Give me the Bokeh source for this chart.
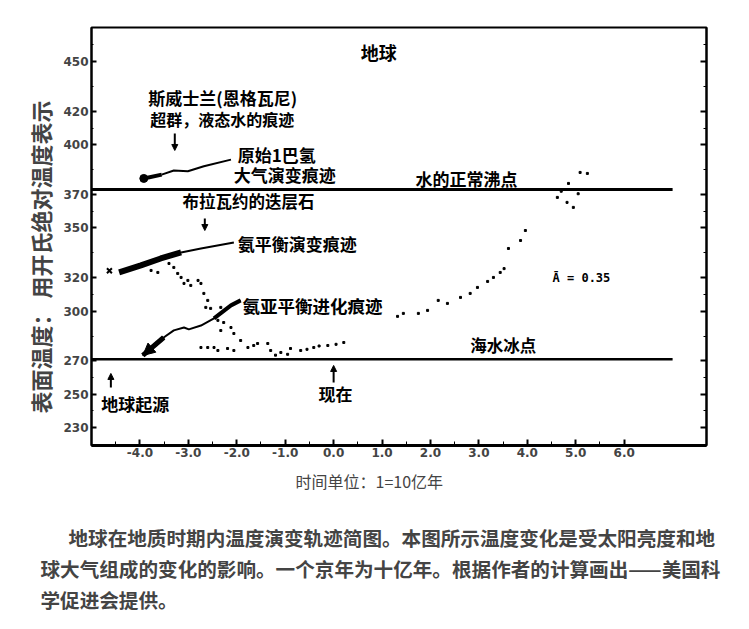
from bokeh.plotting import figure
from bokeh.models import (Range1d, LinearAxis, FixedTicker, Label, Arrow, NormalHead,
                          Title, CustomJSTickFormatter)
from bokeh.embed import file_html
from bokeh.resources import INLINE

# ---------------- data ----------------
x_ticks = [-4, -3, -2, -1, 0, 1, 2, 3, 4, 5, 6]
x_tick_labels = ["-4.0", "-3.0", "-2.0", "-1.0", "0.0", "1.0", "2.0", "3.0", "4.0", "5.0", "6.0"]
x_minor = [-4.5, -3.5, -2.5, -1.5, -0.5, 0.5, 1.5, 2.5, 3.5, 4.5, 5.5]
y_ticks = [230, 250, 270, 300, 320, 350, 370, 400, 420, 450]
y_minor = [240, 260, 285, 310, 335, 360, 385, 410, 435, 460]

boiling_point = 373
freezing_point = 271
ref_line_start = -5.0
ref_line_end = 7.0

# 原始1巴氢大气演变痕迹
h2_x = [-3.92, -3.55, -3.30, -3.01, -2.68, -2.12]
h2_y = [379.7, 382.0, 384.5, 384.0, 387.0, 391.0]
# 氨平衡演变痕迹
nh3_eq_x = [-4.43, -3.98, -3.57, -3.15, -2.74, -2.06]
nh3_eq_y = [323.2, 327.4, 331.6, 335.2, 337.6, 341.2]
# 氨亚平衡进化痕迹
nh3_sub_x = [-3.94, -3.51, -3.30, -3.09, -2.99, -2.74, -2.47, -2.12, -1.92]
nh3_sub_y = [273.3, 284.1, 288.4, 290.1, 289.0, 291.3, 295.6, 303.4, 306.4]

# scattered model points
dots_x = [-3.40, -3.30, -3.22, -3.15, -3.09, -3.01, -2.95, -2.80, -2.74, -2.68, -2.60, -2.64,
          -2.54, -2.33, -2.39, -2.27, -2.12, -2.33, -2.06, -1.92, -1.77, -2.60, -2.39, -2.19,
          -1.57, -1.30, -3.77, -3.63, -3.57,
          -2.74, -2.47, -2.06, -1.65, -1.36, -1.09, -0.89, -0.68, -0.41, -0.12, 0.21,
          -1.20, -0.95, -0.55, -0.30, 0.05,
          1.32, 1.44, 1.75, 1.94, 2.16, 2.35, 2.62, 2.82, 2.97, 3.18, 3.30, 3.44, 3.52,
          3.61, 3.86, 3.96,
          4.62, 4.82, 4.95, 4.85, 5.09, 5.24, 4.70, 5.05]
dots_y = [328.6, 326.2, 322.6, 320.2, 316.6, 318.4, 315.4, 318.4, 316.6, 310.6, 306.4, 302.2,
          301.6, 302.2, 294.4, 293.1, 290.1, 288.3, 286.5, 282.3, 278.1, 278.1, 276.3, 277.5,
          280.5, 276.3, 324.4, 323.2, 332.2,
          278.1, 278.1, 276.3, 279.3, 280.5, 275.1, 277.5, 276.3, 278.1, 279.3, 281.1,
          273.5, 274.0, 277.0, 279.0, 280.0,
          296.8, 298.6, 298.6, 300.4, 306.4, 304.6, 308.2, 310.6, 314.2, 317.8, 320.2, 323.2,
          325.5, 337.6, 342.4, 348.4,
          368.3, 365.3, 362.3, 376.7, 383.3, 382.7, 372.0, 370.5]

y_title = "表面温度： 用开氏绝对温度表示"
x_title = "时间单位：1=10亿年"
caption = ["地球在地质时期内温度演变轨迹简图。本图所示温度变化是受太阳亮度和地",
           "球大气组成的变化的影响。一个京年为十亿年。根据作者的计算画出——美国科",
           "学促进会提供。"]

FONT = "Noto Sans CJK SC"

# ---------------- figure ----------------
p = figure(width=733, height=625, x_range=Range1d(-5.0, 7.7), y_range=Range1d(219.2, 470.4),
           output_backend="svg", toolbar_location=None,
           min_border_left=91, min_border_right=27, min_border_top=27, min_border_bottom=180,
           background_fill_color="white", border_fill_color="white")
p.grid.visible = False
p.outline_line_color = "black"
p.outline_line_width = 2

xa = p.xaxis[0]
xa.ticker = FixedTicker(ticks=x_ticks, minor_ticks=x_minor)
xa.major_label_overrides = {t: l for t, l in zip(x_ticks, x_tick_labels)}
xa.axis_line_width = 3
xa.major_tick_in = 6
xa.major_tick_out = 0
xa.minor_tick_in = 4
xa.minor_tick_out = 0
xa.major_tick_line_width = 2
xa.major_label_standoff = 2
xa.major_label_text_font = "DejaVu Sans"
xa.major_label_text_font_style = "bold"
xa.major_label_text_font_size = "12px"

ya = p.yaxis[0]
ya.ticker = FixedTicker(ticks=y_ticks, minor_ticks=y_minor)
ya.axis_line_width = 2
ya.major_tick_in = 5
ya.major_tick_out = 0
ya.minor_tick_in = 2
ya.minor_tick_out = 0
ya.major_tick_line_width = 2
ya.major_label_standoff = 3
ya.major_label_text_font = "DejaVu Sans"
ya.major_label_text_font_style = "bold"
ya.major_label_text_font_size = "12px"

ra = LinearAxis(ticker=FixedTicker(ticks=y_ticks, minor_ticks=y_minor),
                formatter=CustomJSTickFormatter(code="return ''"),
                axis_line_width=2, major_tick_in=6, major_tick_out=0,
                minor_tick_in=3, minor_tick_out=0, major_tick_line_width=2)
p.add_layout(ra, "right")

# axis titles and caption as stacked titles
p.add_layout(Title(text=y_title, align="left", offset=32, text_font=FONT,
                   text_font_size="22px", text_font_style="bold", standoff=10), "left")
p.add_layout(Title(text=x_title, align="left", offset=204, text_font=FONT,
                   text_font_size="16px", text_font_style="normal", standoff=14.8), "below")
p.add_layout(Title(text=" ", align="left", text_font=FONT, text_font_size="2px",
                   standoff=16.2), "below")
cap_offsets = [-23, -51, -51]
for txt, off in zip(caption, cap_offsets):
    p.add_layout(Title(text=txt, align="left", offset=off, text_font=FONT,
                       text_font_size="19.6px", text_font_style="bold", standoff=0.3), "below")

# reference lines
p.segment(x0=[ref_line_start], y0=[boiling_point], x1=[ref_line_end], y1=[boiling_point],
          line_color="black", line_width=3)
p.segment(x0=[ref_line_start], y0=[freezing_point], x1=[ref_line_end], y1=[freezing_point],
          line_color="black", line_width=2.5)

# traces
p.line(h2_x[1:], h2_y[1:], line_color="black", line_width=2)
p.line(h2_x[:2], h2_y[:2], line_color="black", line_width=4)
p.scatter(h2_x[:1], h2_y[:1], size=8, color="black")

p.line(nh3_eq_x[3:], nh3_eq_y[3:], line_color="black", line_width=2)
p.line(nh3_eq_x[:4], nh3_eq_y[:4], line_color="black", line_width=6)
p.scatter([nh3_eq_x[0] - 0.2], [nh3_eq_y[0] + 1.0], marker="x", size=7, line_color="black",
          line_width=2)

p.line(nh3_sub_x, nh3_sub_y, line_color="black", line_width=2)
p.line(nh3_sub_x[:2], nh3_sub_y[:2], line_color="black", line_width=5)
p.line(nh3_sub_x[6:], nh3_sub_y[6:], line_color="black", line_width=4)
p.add_layout(Arrow(end=NormalHead(size=12, fill_color="black", line_color="black"),
                   x_start=nh3_sub_x[1], y_start=nh3_sub_y[1],
                   x_end=nh3_sub_x[0], y_end=nh3_sub_y[0], line_width=4))

p.scatter(dots_x, dots_y, marker="square", size=2, color="black")

# annotations inside the frame
def lab(x, y, t, size="17px", align="left", font=FONT, style="bold"):
    p.add_layout(Label(x=x, y=y, text=t, text_font=font, text_font_size=size,
                       text_font_style=style, text_align=align, text_baseline="middle",
                       text_color="black"))

lab(0.93, 455.4, "地球", "18px", "center")
lab(-2.29, 428.4, "斯威士兰(恩格瓦尼)", "17px", "center")
lab(-2.30, 415.7, "超群，液态水的痕迹", "16px", "center")
lab(-1.98, 394.1, "原始1巴氢", "17px")
lab(-2.06, 382.1, "大气演变痕迹", "17px")
lab(-1.76, 365.9, "布拉瓦约的迭层石", "16.5px", "center")
lab(-1.98, 340.6, "氨平衡演变痕迹", "17px")
lab(-1.88, 303.4, "氨亚平衡进化痕迹", "17.5px")
lab(1.69, 379.7, "水的正常沸点", "17px")
lab(2.82, 279.3, "海水冰点", "16.5px")
lab(4.52, 319.6, "Ā = 0.35", "12px", "left", "DejaVu Sans Mono", "bold")
lab(-4.80, 244.5, "地球起源", "17px")
lab(-0.31, 250.5, "现在", "17px")

def arr(x, y0, y1):
    p.add_layout(Arrow(end=NormalHead(size=6, fill_color="black", line_color="black"),
                       x_start=x, y_start=y0, x_end=x, y_end=y1, line_width=2))

arr(-3.28, 406.7, 396.5)
arr(-2.66, 355.6, 348.4)
arr(-4.60, 254.1, 262.5)
arr(0.0, 257.1, 267.3)

open("out.html", "w").write(file_html(p, INLINE))
